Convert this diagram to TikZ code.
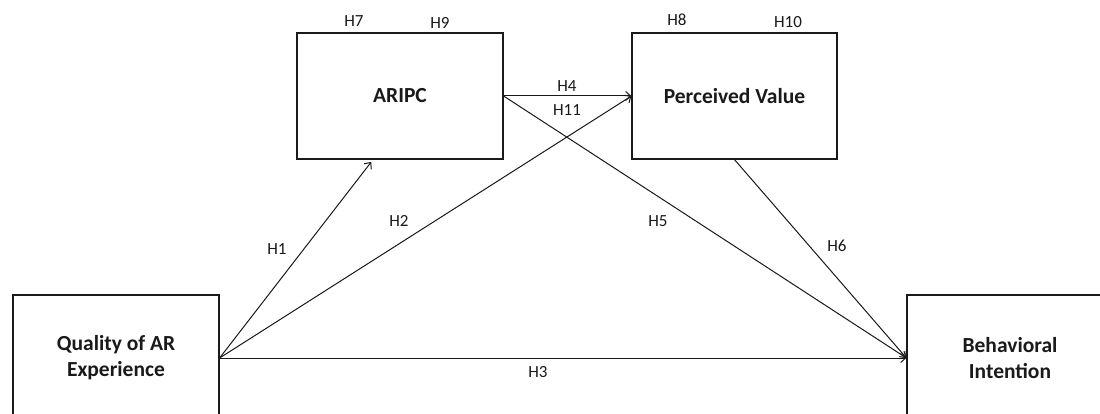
\documentclass[tikz,border=0pt]{standalone}
\usepackage{fontspec}
\setmainfont{Carlito}
\usetikzlibrary{arrows.meta,calc}
\definecolor{ink}{HTML}{1A1A1A}
\tikzset{
  box/.style={draw=ink, line width=1.2pt, minimum width=206pt, minimum height=126pt, inner sep=0pt, align=center, font=\fontsize{21.5}{26}\selectfont\bfseries, text=ink},
  conn/.style={draw=ink, line width=1pt, -{Straight Barb[length=5pt,width=9pt,line width=1pt]}},
  hlab/.style={font=\fontsize{17}{19}\selectfont, text=ink, inner sep=0pt}
}
\begin{document}
\begin{tikzpicture}[x=1pt,y=-1pt]
\clip (0,0) rectangle (1100,414);
\fill[white] (0,0) rectangle (1100,414);
\node[box] (ARIPC) at (400,96) {ARIPC};
\node[box, minimum width=205pt] (PV) at (734.5,96) {Perceived Value};
\node[box] (QAR) at (116,358) {Quality of AR\\Experience};
\node[box] (BI) at (1010,358) {Behavioral\\Intention};
\coordinate (a1) at ($(ARIPC.south west)!0.37!(ARIPC.south east)$);
\draw[conn, shorten >=3pt] (QAR.east) -- (a1);
\draw[conn] (QAR.east) -- (PV.west);
\draw[conn] (QAR.east) -- (BI.west);
\draw[conn] (ARIPC.east) -- (PV.west);
\draw[conn] (ARIPC.east) -- (BI.west);
\draw[conn] (PV.south) -- (BI.west);
\node[hlab] (h1) at (277,249) {H1};
\node[hlab] (h2) at (399,221) {H2};
\node[hlab] (h3) at (538,372) {H3};
\node[hlab] (h4) at (567,86) {H4};
\node[hlab] (h5) at (658,221) {H5};
\node[hlab] (h6) at (837,246) {H6};
\node[hlab] (h7) at (354,21) {H7};
\node[hlab] (h8) at (677,20) {H8};
\node[hlab] (h9) at (440,23) {H9};
\node[hlab] (h10) at (788,22) {H10};
\node[hlab] (h11) at (567,110) {H11};
\end{tikzpicture}
\end{document}
